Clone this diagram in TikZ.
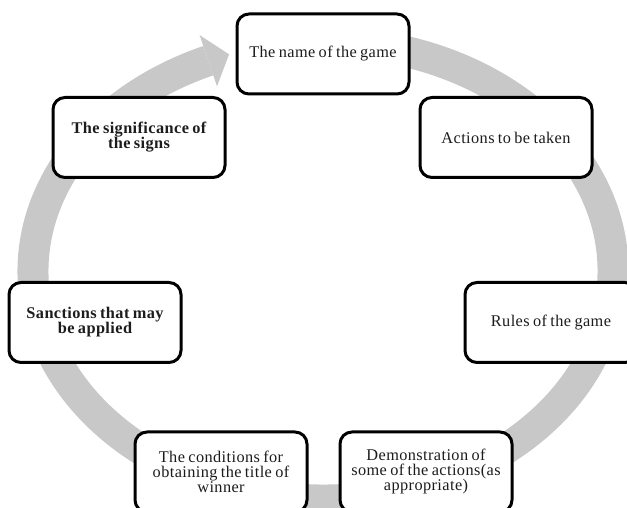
\documentclass[tikz,border=0pt]{standalone}
\usepackage{fontspec}
\setmainfont{Liberation Serif}[WordSpace=0.75,LetterSpace=2.5]
\usetikzlibrary{calc}
\definecolor{ringgray}{RGB}{200,200,200}
\definecolor{inkdark}{RGB}{28,28,28}
\begin{document}
\begin{tikzpicture}[x=1pt,y=1pt,
  stage/.style={draw=black, line width=3pt, rounded corners=12pt, fill=white,
    minimum width=172pt, minimum height=80pt, align=center, inner sep=2pt,
    text=inkdark, font=\fontsize{16.3}{15}\selectfont},
  strong/.style={font=\fontsize{16.3}{15}\selectfont\bfseries},
  ring/.style={draw=ringgray, line width=31pt}]
\useasboundingbox (0,0) rectangle (627,508);

% centre of the elliptical cycle band
\coordinate (c) at (323,237);

% band running clockwise, ending in an arrowhead at the upper left
\draw[ring] ($(c)+(80:290pt and 229pt)$)
  arc[start angle=80, end angle=-246.7, x radius=290pt, y radius=229pt];
\coordinate (tip) at ($(c)+(108.9:290pt and 229pt)$);
\coordinate (wingA) at (199.6,472.9);
\coordinate (wingB) at (217.0,421.7);
\fill[ringgray] (wingA) -- (tip) -- (wingB) -- cycle;

% stages of the cycle
\node[stage] (name) at (323,454) {The name of the game};
\node[stage] (actions) at (506,370.5) {Actions to be taken};
\node[stage] (rules) at (551,185.5) {Rules of the game};
\node[stage] (demo) at (426,36) {Demonstration of\\some of the actions(as\\appropriate)};
\node[stage] (cond) at (221,36) {The conditions for\\obtaining the title of\\winner};
\node[stage,strong] (sanctions) at (95,185.5) {Sanctions that may\\be applied};
\node[stage,strong] (signs) at (139,370.5) {The significance of\\the signs};
\end{tikzpicture}
\end{document}
